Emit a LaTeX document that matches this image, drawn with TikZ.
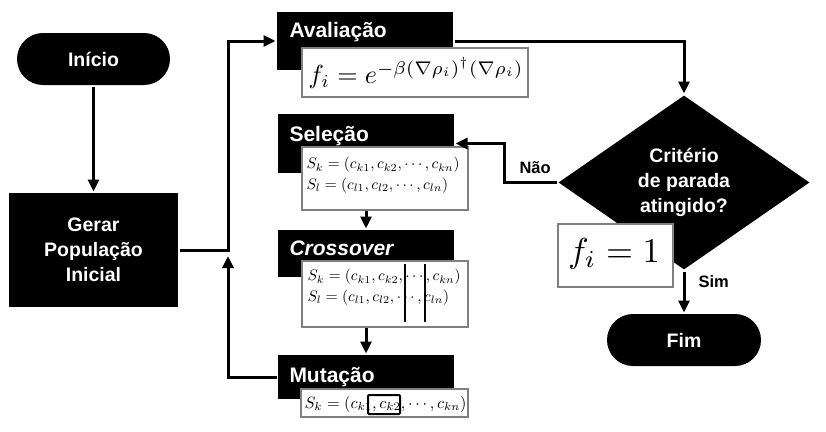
\documentclass[tikz,border=0pt]{standalone}
\usepackage{fontspec}
\usepackage{graphicx}
\usetikzlibrary{shapes.geometric,arrows.meta}
\newfontfamily\arial{Liberation Sans}
\begin{document}
\begin{tikzpicture}[x=1pt,y=-1pt,
  line width=3pt,
  arr/.style={-{Triangle[length=12pt,width=11pt]}},
  blk/.style={fill=black, draw=none, text=white, font=\arial\bfseries\fontsize{19.5}{25}\selectfont, align=center, inner sep=0pt},
  ttl/.style={text=white, font=\arial\bfseries\fontsize{21}{25}\selectfont, anchor=base west, inner sep=0pt},
  fbox/.style={fill=white, draw=black!50, line width=1.2pt, inner sep=0pt},
  mth/.style={inner sep=0pt},
  lbl/.style={font=\arial\bfseries\fontsize{16.5}{20}\selectfont, anchor=base west, inner sep=0pt},
  cut/.style={line width=2pt}]
\useasboundingbox (0,0) rectangle (826,431);

% left column
\node[blk, minimum width=153pt, minimum height=52pt, rounded corners=26pt] (inicio) at (93.5,59) {Início};
\node[blk, minimum width=169pt, minimum height=114pt] (gerar) at (93.5,250) {Gerar\\População\\Inicial};

% Avaliacao
\node[blk, minimum width=176pt, minimum height=58pt] (aval) at (365,41) {};
\node[ttl] (avalt) at (288,37) {Avaliação};
\node[fbox, minimum width=226pt, minimum height=49pt] (avalf) at (415,72.5) {};
\node[mth] (avalm) at (416,73) {\resizebox{215pt}{!}{$f_i = e^{-\beta(\nabla\rho_i)^\dagger(\nabla\rho_i)}$}};

% Selecao
\node[blk, minimum width=176pt, minimum height=59pt] (sel) at (366,143.5) {};
\node[ttl] (selt) at (288,141) {Seleção};
\node[fbox, minimum width=166pt, minimum height=63pt] (self) at (385,178.5) {};
\node[mth, anchor=west] (selm) at (305,175) {\resizebox{153pt}{!}{\renewcommand{\arraystretch}{1.12}$\begin{array}{@{}l@{}} S_k = (c_{k1}, c_{k2}, \cdots, c_{kn})\\ S_l = (c_{l1}, c_{l2}, \cdots, c_{ln}) \end{array}$}};

% Crossover
\node[blk, minimum width=176pt, minimum height=47pt] (cross) at (366,253.5) {};
\node[ttl, font=\arial\bfseries\itshape\fontsize{21}{25}\selectfont] (crosst) at (288,255) {Crossover};
\node[fbox, minimum width=166pt, minimum height=66pt] (crossf) at (385,294) {};
\node[mth, anchor=west] (crossm) at (306,287) {\resizebox{153pt}{!}{\renewcommand{\arraystretch}{1.12}$\begin{array}{@{}l@{}} S_k = (c_{k1}, c_{k2}, \cdots, c_{kn})\\ S_l = (c_{l1}, c_{l2}, \cdots, c_{ln}) \end{array}$}};
\draw[cut] (405,264) -- (405,322);
\draw[cut] (425,264) -- (425,322);

% Mutacao
\node[blk, minimum width=176pt, minimum height=44pt] (mut) at (366,377) {};
\node[ttl] (mutt) at (288,382) {Mutação};
\node[fbox, minimum width=167pt, minimum height=28pt] (mutf) at (384.5,403) {};
\node[mth, anchor=west] (mutm) at (303,404) {\resizebox{162pt}{!}{$S_k = (c_{k1}, c_{k2}, \cdots, c_{kn})$}};
\draw[cut, rounded corners=1pt] (368,395) rectangle (400,414);

% decision
\node[diamond, fill=black, minimum width=252pt, minimum height=175pt, inner sep=0pt, text=white,
  font=\arial\bfseries\fontsize{19.5}{25}\selectfont, align=center] (crit) at (684,182.5) {Critério\\de parada\\atingido?};
\node[fbox, minimum width=115pt, minimum height=63pt] (fone) at (615.5,255.5) {};
\node[mth] (fonem) at (614,254) {\resizebox{92pt}{!}{$f_i = 1$}};
\node[blk, minimum width=154pt, minimum height=52pt, rounded corners=26pt] (fim) at (684,340) {Fim};

% connectors
\coordinate (jA) at (228,250);
\coordinate (jB) at (228,256);
\coordinate (nk) at (504,182.5);
\draw[arr] (inicio) -- (gerar);
\draw[arr] (gerar.east) -- (jA) |- (aval.west);
\draw[arr] (mut.west) -| (jB);
\draw[arr] (aval.east) -| (crit.north);
\draw[arr] (crit.west) -- (nk) |- (sel.east);
\node[lbl] (nao) at (518,173) {Não};
\draw[arr] (cross.north |- self.south) -- (cross.north);
\draw[arr] (mut.north |- crossf.south) -- (mut.north);
\draw[arr] (crit.south) -- (fim.north);
\node[lbl] (sim) at (697,287) {Sim};
\end{tikzpicture}
\end{document}
